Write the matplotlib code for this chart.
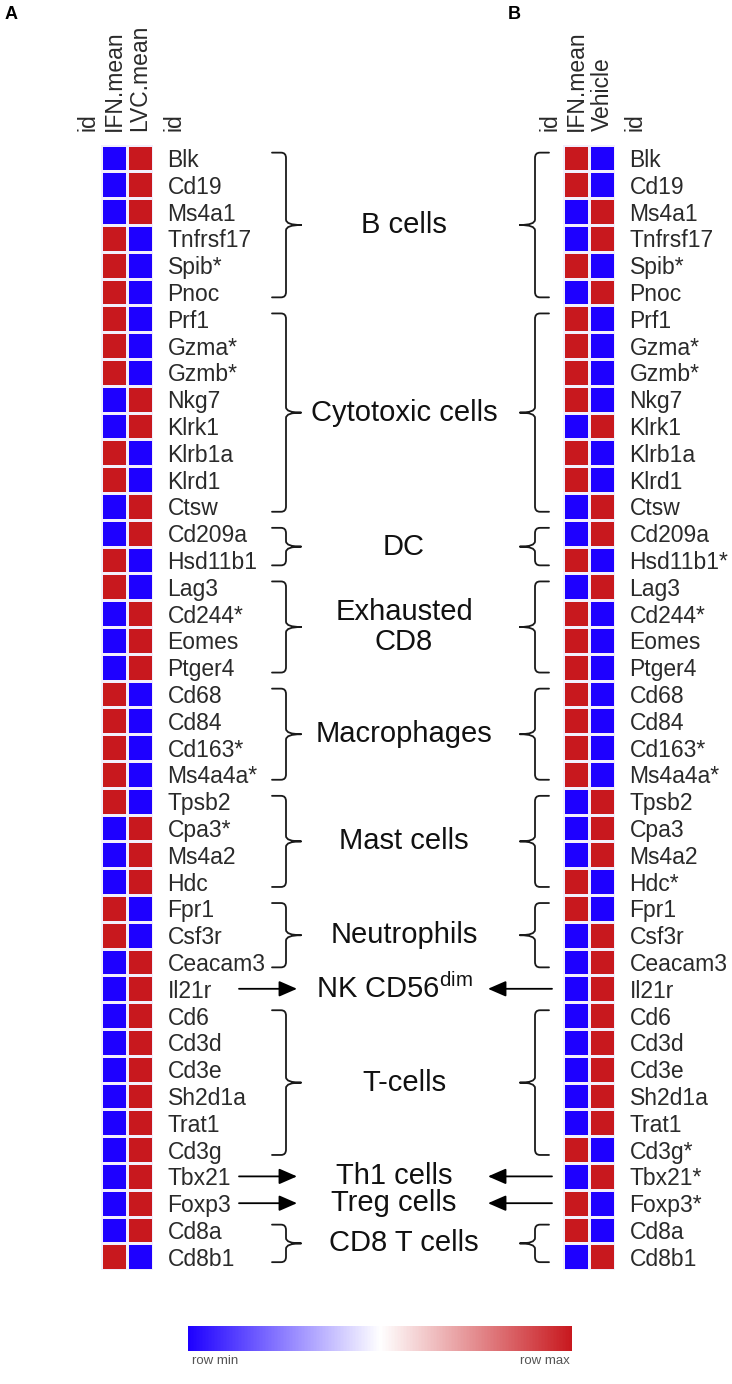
import numpy as np
import matplotlib
matplotlib.use("Agg")
import matplotlib.pyplot as plt
from matplotlib.colors import LinearSegmentedColormap
from matplotlib.path import Path
from matplotlib.patches import PathPatch, FancyArrowPatch
from matplotlib.cm import ScalarMappable

plt.rcParams["font.family"] = ["Liberation Sans", "DejaVu Sans"]
plt.rcParams["mathtext.fontset"] = "custom"
plt.rcParams["mathtext.rm"] = "Liberation Sans"
plt.rcParams["mathtext.it"] = "Liberation Sans:italic"

# ── Data ─────────────────────────────────────────────────────────────
GENES_A = ["Blk", "Cd19", "Ms4a1", "Tnfrsf17", "Spib*", "Pnoc",
           "Prf1", "Gzma*", "Gzmb*", "Nkg7", "Klrk1", "Klrb1a", "Klrd1", "Ctsw",
           "Cd209a", "Hsd11b1", "Lag3", "Cd244*", "Eomes", "Ptger4",
           "Cd68", "Cd84", "Cd163*", "Ms4a4a*", "Tpsb2", "Cpa3*", "Ms4a2", "Hdc",
           "Fpr1", "Csf3r", "Ceacam3", "Il21r", "Cd6", "Cd3d", "Cd3e", "Sh2d1a",
           "Trat1", "Cd3g", "Tbx21", "Foxp3", "Cd8a", "Cd8b1"]
GENES_B = ["Blk", "Cd19", "Ms4a1", "Tnfrsf17", "Spib*", "Pnoc",
           "Prf1", "Gzma*", "Gzmb*", "Nkg7", "Klrk1", "Klrb1a", "Klrd1", "Ctsw",
           "Cd209a", "Hsd11b1*", "Lag3", "Cd244*", "Eomes", "Ptger4",
           "Cd68", "Cd84", "Cd163*", "Ms4a4a*", "Tpsb2", "Cpa3", "Ms4a2", "Hdc*",
           "Fpr1", "Csf3r", "Ceacam3", "Il21r", "Cd6", "Cd3d", "Cd3e", "Sh2d1a",
           "Trat1", "Cd3g*", "Tbx21*", "Foxp3*", "Cd8a", "Cd8b1"]

HEADERS_A = ["IFN.mean", "LVC.mean"]
HEADERS_B = ["IFN.mean", "Vehicle"]

# row-scaled values (0 = row min, 1 = row max)
IFN_A = [0, 0, 0, 1, 1, 1, 1, 1, 1, 0, 0, 1, 1, 0, 0, 1, 1, 0, 0, 0, 1,
         1, 1, 1, 1, 0, 0, 0, 1, 1, 0, 0, 0, 0, 0, 0, 0, 0, 0, 0, 0, 1]
LVC_A = [1, 1, 1, 0, 0, 0, 0, 0, 0, 1, 1, 0, 0, 1, 1, 0, 0, 1, 1, 1, 0,
         0, 0, 0, 0, 1, 1, 1, 0, 0, 1, 1, 1, 1, 1, 1, 1, 1, 1, 1, 1, 0]
IFN_B = [1, 1, 0, 0, 1, 0, 1, 1, 1, 1, 0, 1, 1, 0, 0, 1, 0, 1, 1, 1, 1,
         1, 1, 1, 0, 0, 0, 1, 1, 0, 0, 0, 0, 0, 0, 0, 0, 1, 0, 1, 1, 0]
VEH_B = [0, 0, 1, 1, 0, 1, 0, 0, 0, 0, 1, 0, 0, 1, 1, 0, 1, 0, 0, 0, 0,
         0, 0, 0, 1, 1, 1, 0, 0, 1, 1, 1, 1, 1, 1, 1, 1, 0, 1, 0, 0, 1]

GROUP_LABELS = ["B cells", "Cytotoxic cells", "DC", "Exhausted\nCD8", "Macrophages",
                "Mast cells", "Neutrophils", "NK CD56$^{\\mathrm{dim}}$", "T-cells",
                "Th1 cells", "Treg cells", "CD8 T cells"]
GROUP_START = [0, 6, 14, 16, 20, 24, 28, 31, 32, 38, 39, 40]
GROUP_END   = [5, 13, 15, 19, 23, 27, 30, 31, 37, 38, 39, 41]

# ── Layout (pixels) ──────────────────────────────────────────────────
W, H = 732, 1384
HM_TOP, HM_BOT = 144.6, 1270.2
CMAP = LinearSegmentedColormap.from_list("rowscale", ["#1E00FF", "#FFFFFF", "#C8181E"])
TXT = "#2a2a2a"
FS = 16.5

fig = plt.figure(figsize=(W / 100, H / 100), dpi=100)


def px_axes(x0, y0, x1, y1):
    return fig.add_axes([x0 / W, 1 - y1 / H, (x1 - x0) / W, (y1 - y0) / H])


def heatmap(ax, cols, genes, headers):
    mat = np.column_stack(cols)
    n = len(genes)
    ax.pcolormesh(np.arange(3) - 0.5, np.arange(n + 1) - 0.5, mat, cmap=CMAP,
                  vmin=0, vmax=1, edgecolors="#f2eefc", linewidth=1.0)
    ax.set_xlim(-0.5, 1.5)
    ax.set_ylim(n - 0.5, -0.5)
    ax.xaxis.tick_top()
    ax.set_xticks([0, 1])
    ax.set_xticklabels(headers, rotation=90, fontsize=FS, color=TXT)
    ax.yaxis.tick_right()
    ax.set_yticks(range(n))
    ax.set_yticklabels(genes, fontsize=FS, color=TXT)
    ax.tick_params(axis="x", length=0, pad=10)
    ax.tick_params(axis="y", length=0, pad=10.5)
    for s in ax.spines.values():
        s.set_visible(False)


def brace(ax, xv, y0, y1, hook, tip, rx=5, ry=0.2):
    # hook > 0: hooks point right (tip left); hook < 0: hooks point left
    ym = (y0 + y1) / 2
    sh = np.sign(hook)
    verts = [(xv + hook, y0), (xv + sh * rx, y0), (xv, y0), (xv, y0 + ry),
             (xv, ym - ry), (xv, ym), (xv + tip, ym),
             (xv + tip, ym), (xv, ym), (xv, ym + ry),
             (xv, y1 - ry), (xv, y1), (xv + sh * rx, y1), (xv + hook, y1)]
    codes = [Path.MOVETO, Path.LINETO, Path.CURVE3, Path.CURVE3,
             Path.LINETO, Path.CURVE3, Path.CURVE3,
             Path.MOVETO, Path.CURVE3, Path.CURVE3,
             Path.LINETO, Path.CURVE3, Path.CURVE3, Path.LINETO]
    ax.add_patch(PathPatch(Path(verts, codes), fill=False, lw=1.3,
                           edgecolor="#1a1a1a", capstyle="round"))


def arrow(ax, x0, x1, y):
    ax.add_patch(FancyArrowPatch((x0, y), (x1, y),
                                 arrowstyle="-|>,head_length=0.55,head_width=0.24",
                                 mutation_scale=20, lw=1.3, color="black",
                                 shrinkA=0, shrinkB=0))


axA = px_axes(101, HM_TOP, 153, HM_BOT)
axB = px_axes(563, HM_TOP, 615, HM_BOT)
heatmap(axA, [IFN_A, LVC_A], GENES_A, HEADERS_A)
heatmap(axB, [IFN_B, VEH_B], GENES_B, HEADERS_B)

# overlay: x in pixels, y in row index
ov = px_axes(0, HM_TOP, W, HM_BOT)
ov.set_xlim(0, W)
ov.set_ylim(len(GENES_A) - 0.5, -0.5)
ov.axis("off")
ov.patch.set_alpha(0)

for label, s, e in zip(GROUP_LABELS, GROUP_START, GROUP_END):
    ym = (s + e) / 2
    if e > s:
        brace(ov, 286, s - 0.2, e + 0.2, hook=-14, tip=15)
        brace(ov, 535, s - 0.2, e + 0.2, hook=14, tip=-15)
        xc = 404
    else:
        arrow(ov, 239, 297, ym)
        arrow(ov, 552, 488, ym)
        xc = 394
    ov.text(xc, ym, label, ha="center", va="center", fontsize=21,
            color="#111111", linespacing=1.05)

# "id" column headers
for x in [88, 174, 550, 635]:
    fig.text(x / W, 1 - 131 / H, "id", rotation=90, ha="center", va="bottom",
             fontsize=FS, color=TXT)

# panel letters
fig.text(5 / W, 1 - 6 / H, "A", ha="left", va="top", fontsize=13, fontweight="bold")
fig.text(508 / W, 1 - 6 / H, "B", ha="left", va="top", fontsize=13, fontweight="bold")

# colour scale
cax = px_axes(188, 1326, 572, 1351)
cb = fig.colorbar(ScalarMappable(cmap=CMAP), cax=cax, orientation="horizontal")
cb.set_ticks([])
cb.outline.set_visible(False)
fig.text(215 / W, 1 - 1355 / H, "row min", ha="center", va="top", fontsize=9.5, color="#555555")
fig.text(545 / W, 1 - 1355 / H, "row max", ha="center", va="top", fontsize=9.5, color="#555555")

fig.savefig("out.png", dpi=100, facecolor="white")
